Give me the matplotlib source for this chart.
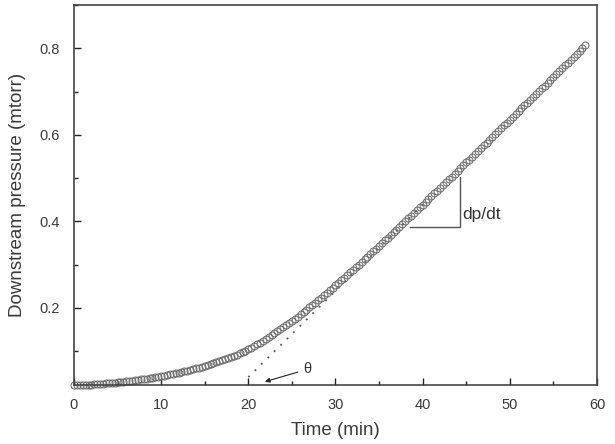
import numpy as np
import matplotlib
matplotlib.use("Agg")
import matplotlib.pyplot as plt
from matplotlib.ticker import MultipleLocator

plt.rcParams['font.family'] = ['Liberation Sans', 'DejaVu Sans']

# downstream pressure (mtorr), one reading every 20 s
pressure = [
    # 0 - 20 min
    0.0210, 0.0212, 0.0215, 0.0218, 0.0222, 0.0225, 0.0229, 0.0233, 0.0238, 0.0243,
    0.0248, 0.0254, 0.0260, 0.0266, 0.0273, 0.0280, 0.0287, 0.0295, 0.0303, 0.0311,
    0.0320, 0.0329, 0.0338, 0.0348, 0.0358, 0.0368, 0.0379, 0.0390, 0.0401, 0.0413,
    0.0425, 0.0437, 0.0450, 0.0463, 0.0477, 0.0491, 0.0505, 0.0520, 0.0535, 0.0551,
    0.0568, 0.0585, 0.0602, 0.0620, 0.0639, 0.0658, 0.0678, 0.0698, 0.0719, 0.0741,
    0.0764, 0.0787, 0.0812, 0.0837, 0.0863, 0.0891, 0.0920, 0.0951, 0.0983, 0.1015,
    # 20 - 40 min
    0.1049, 0.1084, 0.1120, 0.1158, 0.1197, 0.1237, 0.1278, 0.1321, 0.1364, 0.1409,
    0.1455, 0.1502, 0.1549, 0.1598, 0.1647, 0.1697, 0.1748, 0.1799, 0.1852, 0.1905,
    0.1958, 0.2012, 0.2067, 0.2122, 0.2178, 0.2234, 0.2291, 0.2348, 0.2406, 0.2464,
    0.2522, 0.2581, 0.2640, 0.2699, 0.2759, 0.2819, 0.2880, 0.2940, 0.3001, 0.3062,
    0.3124, 0.3185, 0.3247, 0.3309, 0.3371, 0.3434, 0.3497, 0.3559, 0.3622, 0.3685,
    0.3749, 0.3812, 0.3876, 0.3939, 0.4003, 0.4067, 0.4131, 0.4195, 0.4259, 0.4324,
    # 40 - 58.7 min
    0.4388, 0.4453, 0.4517, 0.4582, 0.4647, 0.4712, 0.4777, 0.4842, 0.4907, 0.4972,
    0.5037, 0.5102, 0.5167, 0.5233, 0.5298, 0.5363, 0.5429, 0.5494, 0.5560, 0.5625,
    0.5691, 0.5757, 0.5822, 0.5888, 0.5954, 0.6019, 0.6085, 0.6151, 0.6217, 0.6283,
    0.6349, 0.6414, 0.6480, 0.6546, 0.6612, 0.6678, 0.6744, 0.6810, 0.6876, 0.6942,
    0.7008, 0.7074, 0.7140, 0.7207, 0.7273, 0.7339, 0.7405, 0.7471, 0.7537, 0.7603,
    0.7669, 0.7736, 0.7802, 0.7868, 0.7934, 0.8000, 0.8067,
]
# sampling times (min)
time_min = np.arange(len(pressure)) / 3.0

# steady-state tangent (dotted), end points
tangent_t = [20.0, 40.0]
tangent_p = [0.040, 0.438]

# dp/dt slope triangle corners
tri_t = [38.5, 44.3, 44.3]
tri_p = [0.386, 0.386, 0.502]

fig = plt.figure(figsize=(6.15, 4.44), dpi=100)
ax = fig.add_axes([0.1203, 0.134, 0.8504, 0.8547])

ax.plot(tangent_t, tangent_p, linestyle=(0, (1, 4)), color='#555555', lw=1.3)
ax.plot(time_min, pressure, linestyle='none', marker='o', markersize=5.0,
        markerfacecolor='none', markeredgecolor='#6a6a6a', markeredgewidth=0.75,
        clip_on=False)
ax.plot(tri_t, tri_p, color='#555555', lw=1.0)

ax.text(44.6, 0.415, 'dp/dt', fontsize=12.5, color='#333333', va='center', ha='left')
ax.annotate('\u03b8', xy=(21.9, 0.0295), xytext=(26.3, 0.058),
            fontsize=10.5, color='#333333', va='center', ha='left',
            arrowprops=dict(arrowstyle='-|>', color='#222222', lw=0.8,
                            shrinkA=2, shrinkB=0, mutation_scale=7))

ax.set_xlim(0, 60)
ax.set_ylim(0.023, 0.9)
ax.xaxis.set_major_locator(MultipleLocator(10))
ax.xaxis.set_minor_locator(MultipleLocator(5))
ax.set_yticks([0.2, 0.4, 0.6, 0.8])
ax.yaxis.set_minor_locator(MultipleLocator(0.1))

ax.tick_params(which='both', direction='in', colors='#222222', labelcolor='#3a3a3a',
               labelsize=10.5, pad=10)
ax.tick_params(which='major', length=5, width=1)
ax.tick_params(which='minor', length=3, width=1)

for s in ax.spines.values():
    s.set_color('#444444')
    s.set_linewidth(1.2)

ax.set_xlabel('Time (min)', fontsize=13.5, color='#3a3a3a', labelpad=7)
ax.set_ylabel('Downstream pressure (mtorr)', fontsize=13.5, color='#3a3a3a', labelpad=10)

fig.savefig('out.png', dpi=100)
